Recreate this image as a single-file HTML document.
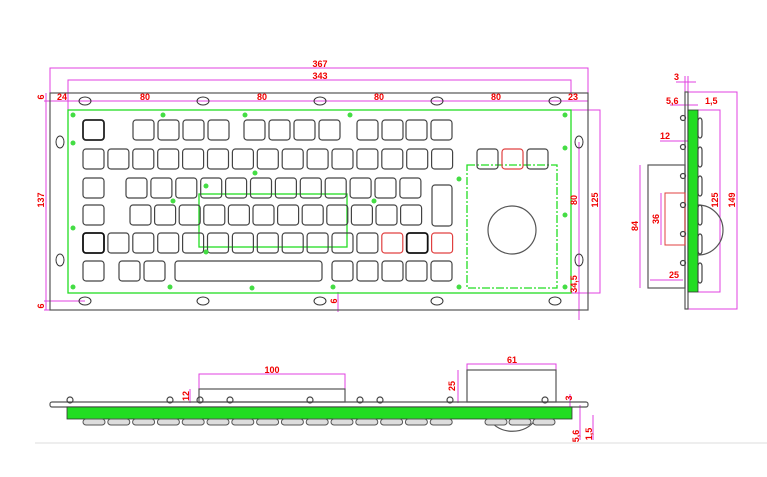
<!DOCTYPE html>
<html><head><meta charset="utf-8"><style>
html,body{margin:0;padding:0;background:#fff;}
svg{display:block}
text{font-family:"Liberation Sans",sans-serif;font-weight:bold;fill:#f00000;font-size:9px}
</style></head><body>
<svg id="s" width="767" height="477" viewBox="0 0 767 477" xmlns="http://www.w3.org/2000/svg">
<rect width="767" height="477" fill="#fff"/>
<line x1="35" y1="443" x2="767" y2="443" stroke="#e8e8e8" stroke-width="1.5"/>
<g fill="none" stroke="#e040e0" stroke-width="1">
<polyline points="50,93 50,68 588,68 588,93"/>
<polyline points="68,110 68,80 571,80 571,93"/>
<line x1="44" y1="101" x2="588" y2="101"/>
<line x1="46" y1="93" x2="46" y2="310"/>
<line x1="44" y1="301" x2="85" y2="301"/>
<line x1="44" y1="310" x2="85" y2="310"/>
<line x1="338" y1="292" x2="338" y2="312"/>
<polyline points="571,110 600,110 600,293 571,293"/>
<line x1="579" y1="142" x2="579" y2="320"/>
<line x1="676" y1="82" x2="696" y2="82"/><line x1="685" y1="76" x2="685" y2="92"/><line x1="688" y1="76" x2="688" y2="92"/>
<polyline points="688,92 737,92 737,309 688,309"/>
<polyline points="698,110 720,110 720,292 698,292"/>
<line x1="670" y1="105" x2="698" y2="105"/>
<line x1="660" y1="141" x2="698" y2="141"/>
<line x1="640" y1="165" x2="640" y2="288"/>
<line x1="650" y1="280" x2="683" y2="280"/>
<line x1="661" y1="193" x2="661" y2="245"/>
<polyline points="199,389 199,374 345,374 345,389"/>
<line x1="190" y1="389" x2="190" y2="403"/>
<polyline points="467,370 467,364 556,364 556,370"/>
<line x1="458" y1="370" x2="458" y2="403"/>
<line x1="570" y1="394" x2="570" y2="408"/>
<line x1="580" y1="405" x2="580" y2="440"/>
<line x1="593" y1="415" x2="593" y2="440"/>
</g>
<g fill="none" stroke="#555" stroke-width="1.2">
<rect x="50" y="93" width="538" height="217"/>
<rect x="685" y="92" width="3" height="217"/>
<rect x="648" y="165" width="37" height="123"/>
<rect x="50" y="402" width="538" height="5" rx="2"/>
<rect x="199" y="389" width="146" height="13"/>
<rect x="467" y="370" width="89" height="32"/>
<circle cx="512" cy="230" r="24"/>
<path d="M698,205 A25,25 0 0 1 698,255"/>
<path d="M490,420 A25,20 0 0 0 535,420"/>
</g>
<rect x="665" y="193" width="20" height="52" fill="none" stroke="#e04040" stroke-width="1"/>
<g fill="none" stroke="#22dd22" stroke-width="1.3">
<rect x="68" y="110" width="503" height="183"/>
<rect x="199" y="194" width="148" height="53"/>
<rect x="467" y="165" width="90" height="123" stroke-dasharray="8,2,2,2"/>
</g>
<rect x="688" y="110" width="10" height="182" fill="#22dd22" stroke="#333" stroke-width="0.8"/>
<rect x="67" y="407" width="505" height="12" fill="#22dd22" stroke="#333" stroke-width="0.8"/>
<g id="k" fill="none" stroke="#444" stroke-width="1.2"></g>
<g id="d" fill="#44dd44"></g>
<g fill="none" stroke="#333" stroke-width="1">
<ellipse cx="85" cy="101" rx="6" ry="4"/><ellipse cx="203" cy="101" rx="6" ry="4"/><ellipse cx="320" cy="101" rx="6" ry="4"/><ellipse cx="437" cy="101" rx="6" ry="4"/><ellipse cx="555" cy="101" rx="6" ry="4"/>
<ellipse cx="85" cy="301" rx="6" ry="4"/><ellipse cx="203" cy="301" rx="6" ry="4"/><ellipse cx="320" cy="301" rx="6" ry="4"/><ellipse cx="437" cy="301" rx="6" ry="4"/><ellipse cx="555" cy="301" rx="6" ry="4"/>
<ellipse cx="60" cy="142" rx="4" ry="6"/><ellipse cx="60" cy="260" rx="4" ry="6"/><ellipse cx="579" cy="142" rx="4" ry="6"/><ellipse cx="579" cy="260" rx="4" ry="6"/>
</g>
<text x="320" y="67" text-anchor="middle">367</text>
<text x="320" y="79" text-anchor="middle">343</text>
<text x="62" y="100" text-anchor="middle">24</text>
<text x="145" y="100" text-anchor="middle">80</text>
<text x="262" y="100" text-anchor="middle">80</text>
<text x="379" y="100" text-anchor="middle">80</text>
<text x="496" y="100" text-anchor="middle">80</text>
<text x="573" y="100" text-anchor="middle">23</text>
<text transform="translate(44,97) rotate(-90)" text-anchor="middle">6</text>
<text transform="translate(44,200) rotate(-90)" text-anchor="middle">137</text>
<text transform="translate(44,306) rotate(-90)" text-anchor="middle">6</text>
<text transform="translate(337,301) rotate(-90)" text-anchor="middle">6</text>
<text transform="translate(577,200) rotate(-90)" text-anchor="middle">80</text>
<text transform="translate(598,200) rotate(-90)" text-anchor="middle">125</text>
<text transform="translate(577,284) rotate(-90)" text-anchor="middle">34,5</text>
<text x="674" y="80">3</text>
<text x="666" y="104">5,6</text>
<text x="705" y="104">1,5</text>
<text x="660" y="139">12</text>
<text transform="translate(638,226) rotate(-90)" text-anchor="middle">84</text>
<text transform="translate(659,219) rotate(-90)" text-anchor="middle">36</text>
<text x="669" y="278">25</text>
<text transform="translate(718,200) rotate(-90)" text-anchor="middle">125</text>
<text transform="translate(735,200) rotate(-90)" text-anchor="middle">149</text>
<text x="272" y="373" text-anchor="middle">100</text>
<text x="512" y="363" text-anchor="middle">61</text>
<text transform="translate(189,396) rotate(-90)" text-anchor="middle">12</text>
<text transform="translate(455,386) rotate(-90)" text-anchor="middle">25</text>
<text transform="translate(572,398) rotate(-90)" text-anchor="middle">3</text>
<text transform="translate(579,436) rotate(-90)" text-anchor="middle">5,6</text>
<text transform="translate(592,434) rotate(-90)" text-anchor="middle">1,5</text>
</svg>
<script>
var k=document.getElementById('k'),d=document.getElementById('d'),NS='http://www.w3.org/2000/svg';
function key(x,y,w,h,c,sw,f){var r=document.createElementNS(NS,'rect');r.setAttribute('x',x);r.setAttribute('y',y);r.setAttribute('width',w);r.setAttribute('height',h||20);r.setAttribute('rx',3);if(c)r.setAttribute('stroke',c);if(sw)r.setAttribute('stroke-width',sw);if(f)r.setAttribute('fill',f);k.appendChild(r);}
key(83,120,21,20,'#222',1.8);
[133,158,183,208,244,269,294,319,357,382,406,431].forEach(function(x){key(x,120,21);});
for(var i=0;i<15;i++)key(83+i*24.9,149,21);
[477,527].forEach(function(x){key(x,149,21);});key(502,149,21,20,'#e04040');
key(83,178,21);for(i=0;i<12;i++)key(126+i*24.9,178,21);
key(432,185,20,41);
key(83,205,21);for(i=0;i<12;i++)key(130+i*24.6,205,21);
for(i=0;i<15;i++){var x=83+i*24.9,c=null,sw=null;if(i==0||i==13){c='#111';sw=1.8}if(i==12||i==14)c='#e04040';key(x,233,21,20,c,sw);}
key(83,261,21);key(119,261,21);key(144,261,21);key(175,261,147);
[332,357,382,406,431].forEach(function(x){key(x,261,21);});
for(i=0;i<6;i++){key(698,118+i*29,4,20);}
for(i=0;i<6;i++){var c2=document.createElementNS(NS,'circle');c2.setAttribute('cx',683);c2.setAttribute('cy',118+i*29);c2.setAttribute('r',2.5);k.appendChild(c2);}
for(i=0;i<15;i++){key(83+i*24.8,419,22,6,'#555',1,'#ddd');}
for(i=0;i<3;i++){key(485+i*24,419,22,6,'#555',1,'#ddd');}
[70,170,200,230,310,360,380,450,545].forEach(function(x){var c3=document.createElementNS(NS,'circle');c3.setAttribute('cx',x);c3.setAttribute('cy',400);c3.setAttribute('r',3);k.appendChild(c3);});
[[73,115],[163,115],[245,115],[350,115],[565,115],[73,143],[565,148],[73,228],[565,215],[73,287],[170,287],[252,288],[333,287],[459,287],[565,287],[255,173],[173,201],[374,201],[459,179],[206,186],[206,252]].forEach(function(p){var c=document.createElementNS(NS,'circle');c.setAttribute('cx',p[0]);c.setAttribute('cy',p[1]);c.setAttribute('r',2.5);d.appendChild(c);});
</script>
</body></html>
